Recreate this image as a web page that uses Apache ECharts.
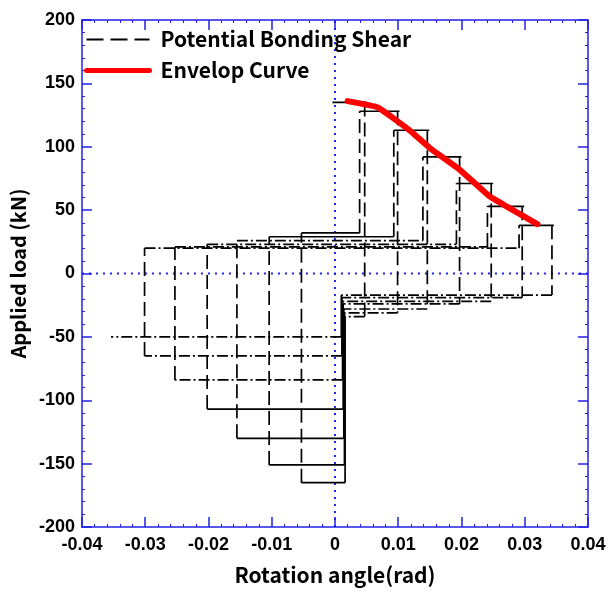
<!DOCTYPE html>
<html>
<head>
<meta charset="utf-8">
<script src="https://cdn.jsdelivr.net/npm/echarts@6/dist/echarts.min.js"></script>
<style>
html, body { margin: 0; padding: 0; background: #fff; }
#main { width: 613px; height: 592px; }
</style>
</head>
<body>
<div id="main"></div>
<script>
// rotation (rad) / load (kN)
var posPeak    = [135, 128, 113, 92, 71, 53, 38];
var posStart   = [-0.0004, 0.0039, 0.0093, 0.0139, 0.0192, 0.0241, 0.0291];
var posEnd     = [0.0047, 0.0099, 0.0146, 0.0197, 0.0247, 0.0296, 0.0343];
var unloadLoad = [-34, -31, -28, -24, -22, -19, -17];
var returnRot  = [0.0016, 0.0015, 0.0014, 0.0013, 0.0012, 0.0011, 0.0010];
var negPeak    = [-165, -151, -130, -107, -84, -65, -50];
var negRot     = [-0.0053, -0.0104, -0.0155, -0.0202, -0.0253, -0.0301, -0.0354];
var reloadLoad = [32, 29, 26, 23, 21, 20];

var envRot  = [0.0020, 0.0068, 0.0118, 0.0150, 0.0197, 0.0244, 0.0271, 0.0320];
var envLoad = [136, 131, 113, 99, 82, 61, 53, 39];

var xTicks = [-0.04, -0.03, -0.02, -0.01, 0, 0.01, 0.02, 0.03, 0.04];
var yTicks = [-200, -150, -100, -50, 0, 50, 100, 150, 200];

var BLUE = '#2020e6';
var DASH = [14, 6];
var DASHDOT = [11, 3, 2, 3];
var NAME = 'Potential Bonding Shear';

var series = [];
function seg(pts, type) {
    series.push({
        name: NAME,
        type: 'line',
        data: pts,
        symbol: 'none',
        silent: true,
        lineStyle: { color: '#000', width: 1.7, type: type },
        itemStyle: { color: '#000' },
        z: 3
    });
}

// dotted zero lines
series.push({
    name: 'zeroX', type: 'line', symbol: 'none', silent: true,
    data: [[0, yTicks[0]], [0, yTicks[yTicks.length - 1]]],
    lineStyle: { color: BLUE, width: 2, type: [2, 5] }, z: 2
});
series.push({
    name: 'zeroY', type: 'line', symbol: 'none', silent: true,
    data: [[xTicks[0], 0], [xTicks[xTicks.length - 1], 0]],
    lineStyle: { color: BLUE, width: 2, type: [2, 5] }, z: 2
});

for (var k = 0; k < posPeak.length; k++) {
    if (k > 0) seg([[posStart[k], reloadLoad[k - 1]], [posStart[k], posPeak[k]]], DASH);
    seg([[posStart[k], posPeak[k]], [posEnd[k] + 0.0003, posPeak[k]]], 'solid');
    seg([[posEnd[k], posPeak[k]], [posEnd[k], unloadLoad[k]]], DASH);
    seg([[posEnd[k], unloadLoad[k]], [returnRot[k], unloadLoad[k]]], DASHDOT);
    seg([[returnRot[k], unloadLoad[k]], [returnRot[k], negPeak[k]]], 'solid');
    seg([[returnRot[k], negPeak[k]], [negRot[k], negPeak[k]]], k < 4 ? 'solid' : DASHDOT);
    if (k < reloadLoad.length) {
        seg([[negRot[k], negPeak[k]], [negRot[k], reloadLoad[k]]], DASH);
        seg([[negRot[k], reloadLoad[k]], [posStart[k + 1], reloadLoad[k]]], k < 2 ? 'solid' : DASHDOT);
    }
}

var envData = envRot.map(function (x, i) { return [x, envLoad[i]]; });
series.push({
    name: 'Envelop Curve',
    type: 'line',
    data: envData,
    symbol: 'none',
    smooth: 0.1,
    lineStyle: { color: '#ff0000', width: 6, cap: 'round', join: 'round' },
    itemStyle: { color: '#ff0000' },
    z: 5
});

var nameFont = { color: '#000', fontSize: 21, fontWeight: 'bold', fontFamily: 'Noto Sans CJK KR' };

function xAx(pos, show) {
    return {
        type: 'value', position: pos,
        min: xTicks[0], max: xTicks[xTicks.length - 1], interval: 0.01,
        name: show ? 'Rotation angle(rad)' : '',
        nameLocation: 'middle', nameGap: 38, nameTextStyle: nameFont,
        axisLine: { onZero: false, lineStyle: { color: BLUE, width: 1.5 } },
        axisTick: { inside: true, length: 10, lineStyle: { color: BLUE, width: 1.5 } },
        minorTick: { show: true, splitNumber: 5, length: 3, lineStyle: { color: BLUE, width: 1 } },
        splitLine: { show: false },
        axisLabel: {
            show: show, margin: 9,
            color: '#000', fontSize: 18, fontWeight: 'bold', fontFamily: 'Liberation Sans',
            formatter: function (v) { return Math.abs(v) < 1e-9 ? '0' : v.toFixed(2); }
        }
    };
}
function yAx(pos, show) {
    return {
        type: 'value', position: pos,
        min: yTicks[0], max: yTicks[yTicks.length - 1], interval: 50,
        name: show ? 'Applied load (kN)' : '',
        nameLocation: 'middle', nameGap: 50,
        nameTextStyle: { color: '#000', fontSize: 20, fontWeight: 'bold', fontFamily: 'Noto Sans CJK KR' },
        axisLine: { onZero: false, lineStyle: { color: BLUE, width: 1.5 } },
        axisTick: { inside: true, length: 10, lineStyle: { color: BLUE, width: 1.5 } },
        minorTick: { show: true, splitNumber: 5, length: 3, lineStyle: { color: BLUE, width: 1 } },
        splitLine: { show: false },
        axisLabel: {
            show: show, margin: 7,
            color: '#000', fontSize: 18, fontWeight: 'bold', fontFamily: 'Liberation Sans'
        }
    };
}

var myChart = echarts.init(document.getElementById('main'), null, { renderer: 'canvas' });
var option = {
    animation: false,
    backgroundColor: '#fff',
    grid: { left: 80, right: 25, top: 20, bottom: 65 },
    legend: {
        data: [
            { name: NAME, itemStyle: { opacity: 0 }, lineStyle: { color: '#000', width: 2, type: [17, 7] } },
            { name: 'Envelop Curve', itemStyle: { opacity: 0 }, lineStyle: { color: '#ff0000', width: 5, cap: 'round' } }
        ],
        orient: 'vertical',
        left: 79, top: 24,
        itemWidth: 63, itemHeight: 14, itemGap: 10,
        textStyle: { color: '#000', fontSize: 21, fontWeight: 'bold', fontFamily: 'Noto Sans CJK KR', padding: [0, 0, 0, 6] },
        selectedMode: false
    },
    xAxis: [xAx('bottom', true), xAx('top', false)],
    yAxis: [yAx('left', true), yAx('right', false)],
    series: series
};
myChart.setOption(option, true);
</script>
</body>
</html>
